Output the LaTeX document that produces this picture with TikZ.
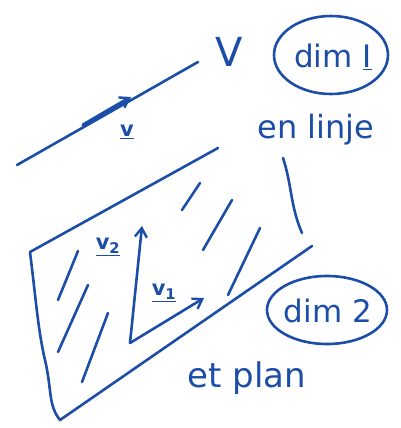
\documentclass[tikz,border=0pt]{standalone}
\usepackage{fontspec}
\setmainfont{DejaVu Sans}
\usetikzlibrary{arrows.meta}
\definecolor{ink}{RGB}{28,78,168}
\tikzset{
  pen/.style={draw=ink, line width=2.6pt, line cap=round, line join=round},
  vec/.style={pen, -{Straight Barb[length=9pt,width=12pt,line width=2.4pt]}},
  txt/.style={text=ink, font=\fontsize{32}{36}\selectfont, inner sep=0pt},
  small/.style={text=ink, font=\fontsize{21}{24}\selectfont\bfseries, inner sep=0pt},
  ring/.style={pen, ellipse, inner sep=0pt}
}
\begin{document}
\begin{tikzpicture}[x=1pt,y=-1pt]
\useasboundingbox (0,0) rectangle (400,428);
% line with vector
\coordinate (L0) at (17,165);
\coordinate (L1) at (198,62);
\coordinate (A0) at (83,125);
\coordinate (A1) at (131,97);
\draw[pen] (L0) -- (L1);
\draw[vec, line width=3.4pt] (A0) -- (A1);
\node[txt, font=\fontsize{40}{44}\selectfont] (V) at (229,52) {V};
\node[small] (v) at (127,132) {\underline{v}};
\node[txt, font=\fontsize{31}{34}\selectfont] (d1) at (333,57) {dim \underline{I}};
\draw[pen] (331,55) ellipse [x radius=57, y radius=39];
\node[txt] (lin) at (316,130) {en linje};
% plane
\coordinate (P1) at (30,252);
\coordinate (P2) at (218,148);
\coordinate (P3) at (312,246);
\coordinate (P4) at (60,420);
\draw[pen] (P1) -- (P2);
\draw[pen] (P4) -- (P3);
\draw[pen] (283,158) .. controls (292,185) and (290,205) .. (302,233);
\draw[pen] (P1) .. controls (36,300) and (38,330) .. (45,360) .. controls (52,390) and (48,405) .. (P4);
% hatching
\draw[pen] (78,251) -- (58,300);
\draw[pen] (88,285) -- (58,352);
\draw[pen] (108,313) -- (82,382);
\draw[pen] (200,183) -- (182,210);
\draw[pen] (232,200) -- (203,250);
\draw[pen] (260,228) -- (228,295);
% vectors in plane
\coordinate (O) at (130,343);
\coordinate (T2) at (142,226);
\coordinate (T1) at (204,298);
\draw[vec] (O) -- (T2);
\draw[vec] (O) -- (T1);
\node[small] (v2) at (108,247) {\underline{v\textsubscript{2}}};
\node[small] (v1) at (164,293) {\underline{v\textsubscript{1}}};
\node[txt, font=\fontsize{31}{34}\selectfont] (d2) at (328,311) {dim 2};
\draw[pen] (327,310) ellipse [x radius=60, y radius=34];
\node[txt, font=\fontsize{34}{38}\selectfont] (pl) at (247,378) {et plan};
\end{tikzpicture}
\end{document}
